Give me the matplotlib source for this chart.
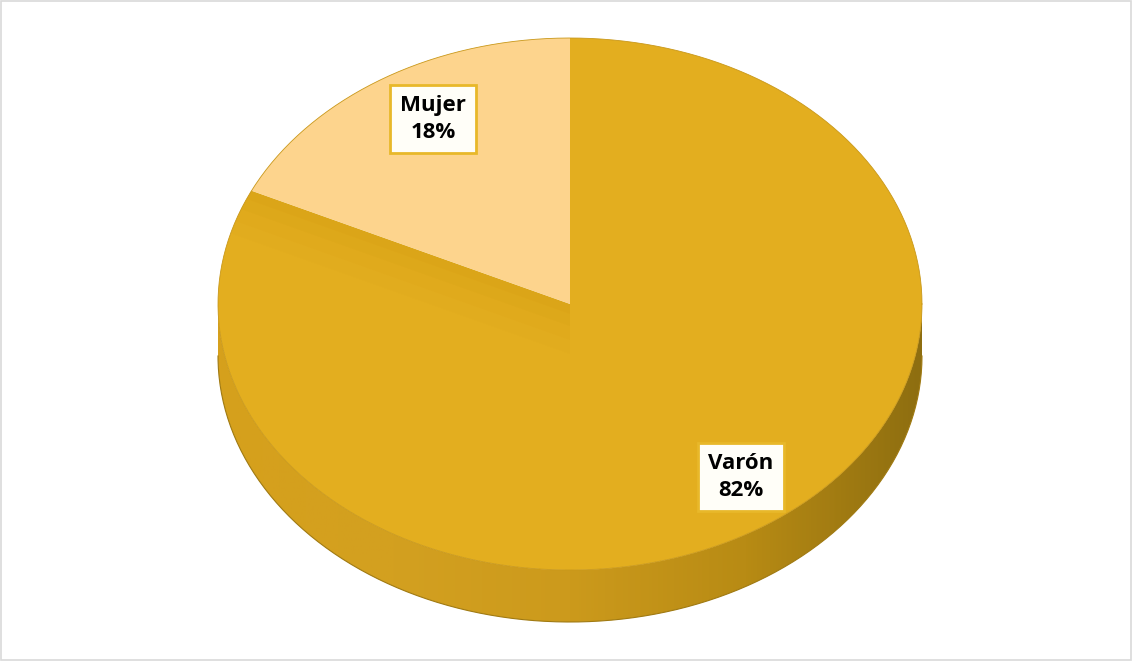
import numpy as np
import matplotlib
matplotlib.use('Agg')
import matplotlib.pyplot as plt
from matplotlib.patches import Polygon, Rectangle
from matplotlib.colors import LinearSegmentedColormap

# ---- data ----
labels = ['Varón', 'Mujer']
values = [82, 18]
top_colors = ['#E3AE1F', '#FDD48D']

# ---- layout (pixels) ----
W, H = 1132, 661
cx, cy, rx, ry, depth = 570, 304, 352, 266, 52

fig = plt.figure(figsize=(W / 100, H / 100), dpi=100)
ax = fig.add_axes([0, 0, 1, 1])
ax.set_xlim(0, W)
ax.set_ylim(H, 0)
ax.axis('off')

ax.add_patch(Rectangle((1, 1), W - 2, H - 2, fill=False, ec='#D9D9D9', lw=1.2))


def pt(t_deg, dy=0.0, f=1.0):
    t = np.radians(t_deg)
    return cx + f * rx * np.cos(t), cy - f * ry * np.sin(t) + dy


# slice angles: clockwise from 12 o'clock
total = sum(values)
angles = []
start = 90.0
for v in values:
    end = start - 360.0 * v / total
    angles.append((start, end))
    start = end

# ---- side wall (front half) ----
ts = np.linspace(180, 360, 200)
top = np.array([pt(t) for t in ts])
bot = np.array([pt(t, depth) for t in ts[::-1]])
side_poly = Polygon(np.vstack([top, bot]), closed=True, fc='none', ec='none')
ax.add_patch(side_poly)
cmap = LinearSegmentedColormap.from_list(
    'side', ['#D6A01C', '#D3A020', '#CC9A1C', '#B88B14', '#8E6E10'])
grad = np.linspace(0, 1, 400).reshape(1, -1)
im = ax.imshow(grad, cmap=cmap, extent=(cx - rx, cx + rx, cy + ry + depth + 2, cy - 10),
               aspect='auto', zorder=1)
im.set_clip_path(side_poly)
ax.plot(bot[:, 0], bot[:, 1], color='#A07A12', lw=0.8, zorder=2)

# ---- top wedges ----
wedges = []
for (a0, a1), col in zip(angles, top_colors):
    ts = np.linspace(a0, a1, 300)
    arc = np.array([pt(t) for t in ts])
    poly = np.vstack([[cx, cy], arc])
    p = Polygon(poly, closed=True, fc=col, ec='none', zorder=3)
    ax.add_patch(p)
    wedges.append(p)

# soft shadow band inside Varón, parallel to the Mujer/Varón boundary
b_ang = angles[0][1]
ex, ey = pt(b_ang)
dxl, dyl = ex - cx, ey - cy
p0 = (cx, cy)
p1 = (ex + 0.2 * dxl, ey + 0.2 * dyl)
for off, alpha in [(10, 0.10), (22, 0.10), (36, 0.08), (50, 0.05)]:
    band = np.array([p0, p1, (p1[0], p1[1] + off), (p0[0], p0[1] + off)])
    bp = Polygon(band, closed=True, fc='#CF960C', ec='none', alpha=alpha, zorder=4)
    ax.add_patch(bp)
    bp.set_clip_path(wedges[0])

# top outline
ts = np.linspace(0, 360, 400)
outline = np.array([pt(t) for t in ts])
ax.plot(outline[:, 0], outline[:, 1], color='#C9981A', lw=0.6, zorder=5)

# ---- labels ----
label_pos = [(741, 477), (433, 119)]
for lab, v, (x, y) in zip(labels, values, label_pos):
    ax.text(x, y, f"{lab}\n{v}%", ha='center', va='center',
            fontsize=16, fontweight='bold', family='Open Sans', linespacing=1.35,
            color='#000000',
            bbox=dict(boxstyle='square,pad=0.45', fc='#FFFEF8', ec='#E8B82A', lw=2),
            zorder=7)

fig.savefig('out.png', dpi=100)
